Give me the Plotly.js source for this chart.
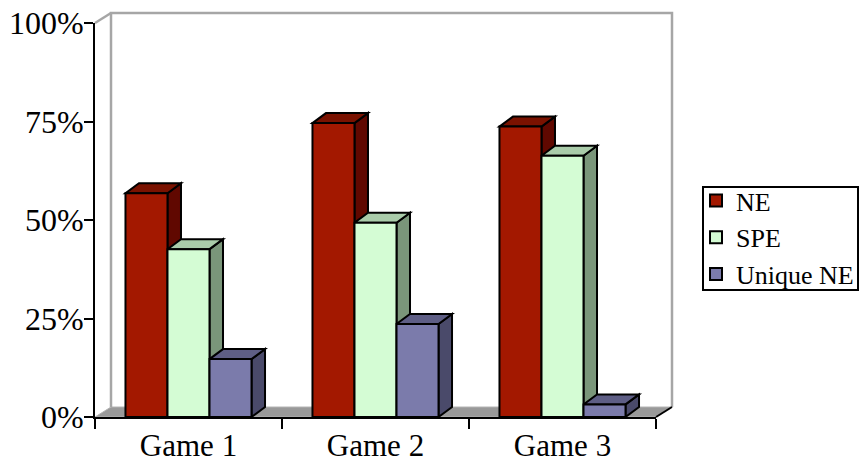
<!DOCTYPE html>
<html>
<head>
<meta charset="utf-8">
<script src="https://cdn.plot.ly/plotly-3.0.1.min.js"></script>
<style>html,body{margin:0;padding:0;background:#fff;}#chart{width:860px;height:463px;}</style>
</head>
<body>
<div id="chart"></div>
<script>
// ---- data ----
const categories = ['Game 1', 'Game 2', 'Game 3'];
const seriesNames = ['NE', 'SPE', 'Unique NE'];
const neValues = [56.8, 74.6, 73.7];
const speValues = [42.6, 49.3, 66.3];
const uniqueValues = [14.7, 23.6, 3.2];
const yTickVals = [0, 25, 50, 75, 100];
const yTickText = ['0%', '25%', '50%', '75%', '100%'];

// ---- styling ----
const frontColors = ['#A31800', '#D4FCD4', '#7B7BAB'];
const topColors = ['#7A1200', '#AACCAA', '#5E5E85'];
const sideColors = ['#600800', '#7A967A', '#4A4A6A'];
const FONT = 'Liberation Serif, Times New Roman, serif';

const W = 860, H = 463;
const M = {l: 95, r: 204, t: 23, b: 46, autoexpand: false};
const plotW = W - M.l - M.r;      // 561
const plotH = H - M.t - M.b;      // 394
const bargap = 0.326;
const nSeries = 3;
const barW = (1 - bargap) / nSeries;

// depth of bars (pixels -> data units)
const barDepthPx = {x: 13.5, y: 10};
const ddx = barDepthPx.x / (plotW / 3);
const ddy = barDepthPx.y / (plotH / 100);
// depth of walls (pixels -> paper units)
const WDX = 16 / plotW, WDY = 10 / plotH;

const allValues = [neValues, speValues, uniqueValues];

const traces = allValues.map((vals, j) => ({
  type: 'bar',
  name: seriesNames[j],
  x: categories,
  y: vals,
  marker: {color: frontColors[j], line: {color: '#000', width: 2}},
  hoverinfo: 'skip'
}));

const shapes = [];
// floor
shapes.push({type: 'path', xref: 'paper', yref: 'paper', layer: 'below',
  path: `M0,0 L1,0 L${1 + WDX},${WDY} L${WDX},${WDY} Z`,
  fillcolor: '#999999', line: {color: '#b4b4b4', width: 1}});
// back wall
shapes.push({type: 'path', xref: 'paper', yref: 'paper', layer: 'below',
  path: `M${WDX},${WDY} L${WDX},${1 + WDY} L${1 + WDX},${1 + WDY} L${1 + WDX},${WDY}`,
  line: {color: '#a6a6a6', width: 2.5}});
// top-left connector
shapes.push({type: 'line', xref: 'paper', yref: 'paper', layer: 'below',
  x0: 0, y0: 1, x1: WDX, y1: 1 + WDY, line: {color: '#a6a6a6', width: 2.5}});
// right floor edge
shapes.push({type: 'line', xref: 'paper', yref: 'paper', layer: 'above',
  x0: 1, y0: 0, x1: 1 + WDX, y1: WDY, line: {color: '#000', width: 2}});

// 3D faces of bars (left to right for correct overlap)
categories.forEach((c, i) => {
  for (let j = 0; j < nSeries; j++) {
    const v = allValues[j][i];
    const left = i - (1 - bargap) / 2 + j * barW;
    const right = left + barW;
    shapes.push({type: 'path', xref: 'x', yref: 'y', layer: 'below',
      path: `M${right},0 L${right + ddx},${ddy} L${right + ddx},${v + ddy} L${right},${v} Z`,
      fillcolor: sideColors[j], line: {color: '#000', width: 2}});
    shapes.push({type: 'path', xref: 'x', yref: 'y', layer: 'below',
      path: `M${left},${v} L${right},${v} L${right + ddx},${v + ddy} L${left + ddx},${v + ddy} Z`,
      fillcolor: topColors[j], line: {color: '#000', width: 2}});
  }
});

// legend frame
const px2paperX = p => (p - M.l) / plotW;
const px2paperY = p => (H - M.b - p) / plotH;
shapes.push({type: 'rect', xref: 'paper', yref: 'paper', layer: 'above',
  x0: px2paperX(703), x1: px2paperX(858), y0: px2paperY(187), y1: px2paperY(290),
  line: {color: '#000', width: 2}, fillcolor: 'rgba(0,0,0,0)'});

const layout = {
  width: W, height: H,
  margin: M,
  paper_bgcolor: '#fff', plot_bgcolor: 'rgba(0,0,0,0)',
  barmode: 'group', bargap: bargap, bargroupgap: 0,
  font: {family: FONT, color: '#000'},
  xaxis: {
    type: 'category', range: [-0.5, 2.5], tickson: 'boundaries',
    ticks: 'outside', ticklen: 10, tickwidth: 2, tickcolor: '#000',
    showline: true, linecolor: '#000', linewidth: 2,
    showgrid: false, zeroline: false, fixedrange: true, automargin: false,
    tickfont: {family: FONT, size: 31, color: '#000'}
  },
  yaxis: {
    range: [0, 100], tickmode: 'array', tickvals: yTickVals, ticktext: yTickText,
    ticks: 'outside', ticklen: 9, tickwidth: 2, tickcolor: '#000',
    showline: true, linecolor: '#000', linewidth: 2,
    showgrid: false, zeroline: false, fixedrange: true, automargin: false,
    ticklabelstandoff: -6,
    tickfont: {family: FONT, size: 32, color: '#000'}
  },
  showlegend: true,
  legend: {
    x: px2paperX(696), y: px2paperY(177), xanchor: 'left', yanchor: 'top',
    font: {family: FONT, size: 26, color: '#000'},
    bgcolor: 'rgba(0,0,0,0)', borderwidth: 0,
    traceorder: 'normal'
  },
  shapes: shapes
};

Plotly.newPlot('chart', traces, layout, {displayModeBar: false, staticPlot: true});
</script>
</body>
</html>
